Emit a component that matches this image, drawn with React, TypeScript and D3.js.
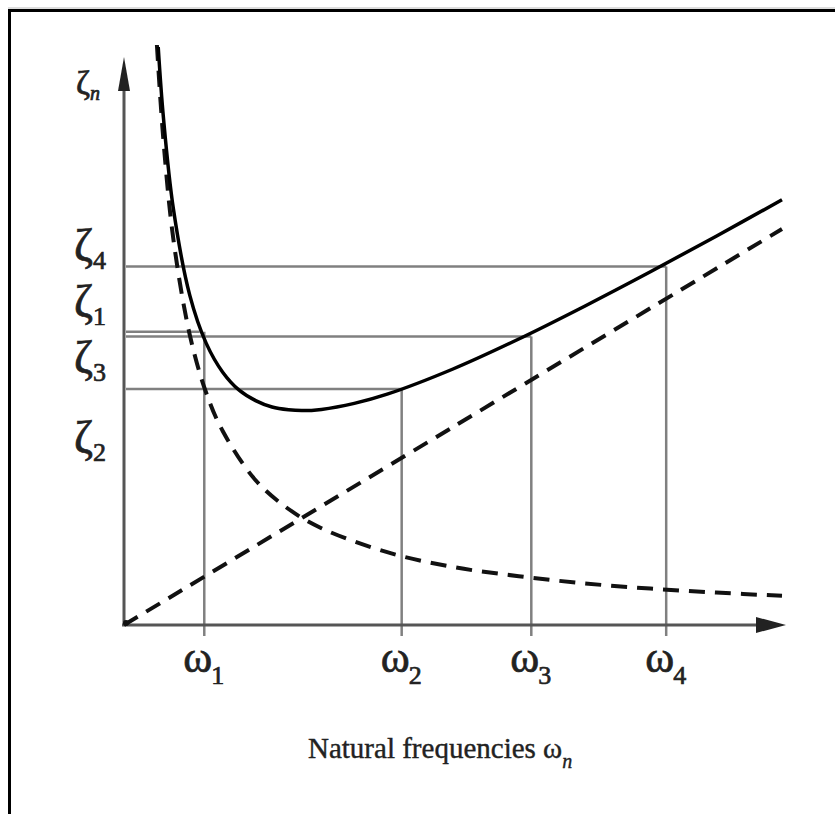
import React from "react";
import * as d3 from "d3";

// ω along the bottom (0..10), ζ up the side (0..14.6)
const massOmega = [0.5, 0.6, 0.75, 1, 1.25, 1.5, 2, 2.5, 3, 4, 5, 6, 7, 8, 9, 10];
const massZeta = [14.5, 12.1, 9.65, 7.25, 5.8, 4.85, 3.62, 2.9, 2.42, 1.82, 1.45, 1.22, 1.04, 0.91, 0.81, 0.73];

const stiffOmega = [0, 5, 10];
const stiffZeta = [0, 4.95, 9.9];

const totalOmega = [0.52, 0.6, 0.75, 1, 1.25, 1.5, 1.75, 2, 2.25, 2.5, 2.7, 3, 3.5, 4, 5, 6, 7, 8, 9, 10];
const totalZeta = [14.45, 12.67, 10.41, 8.24, 7.04, 6.32, 5.87, 5.61, 5.45, 5.38, 5.36, 5.39, 5.54, 5.77, 6.4, 7.15, 7.97, 8.83, 9.72, 10.63];

// the four target modes
const modeNames = ["1", "2", "3", "4"];
const modeOmega = [1.22, 4.22, 6.19, 8.24];
const modeZeta = [7.33, 5.9, 7.21, 8.96];
const guideEnd = [1.15, 4.22, 6.19, 8.24];

// ζ labels on the left, top to bottom
const zetaNames = ["4", "1", "3", "2"];
const zetaLabelAt = [9.1, 7.7, 6.3, 4.3];

const width = 835;
const height = 814;
const font = "'Liberation Serif', 'DejaVu Serif', serif";

export default function App() {
  const x = d3.scaleLinear().domain([0, 10]).range([124, 782]);
  const y = d3.scaleLinear().domain([0, 14.6]).range([625, 41]);

  const line = d3
    .line<[number, number]>()
    .x((d) => x(d[0]))
    .y((d) => y(d[1]))
    .curve(d3.curveCatmullRom.alpha(0.5));

  const mass = line(massOmega.map((w, i) => [w, massZeta[i]]));
  const stiff = line(stiffOmega.map((w, i) => [w, stiffZeta[i]]));
  const total = line(totalOmega.map((w, i) => [w, totalZeta[i]]));

  const x0 = x(0);
  const y0 = y(0);
  const axisTop = y.range()[1] + 16;
  const axisRight = x(10) + 4;

  return (
    <svg
      width={width}
      height={height}
      style={{ position: "absolute", left: 0, top: 0, background: "#fff" }}
    >
      {/* frame */}
      <line x1={8} y1={8} x2={width} y2={8} stroke="#bbb" strokeWidth={1} />
      <line x1={8} y1={10.5} x2={width} y2={10.5} stroke="#000" strokeWidth={3} />
      <line x1={9.5} y1={9} x2={9.5} y2={height} stroke="#000" strokeWidth={3} />

      {/* guide lines */}
      {modeNames.map((m, i) => (
        <g key={m} stroke="#808080" strokeWidth={2.5}>
          <line x1={x0 + 2} x2={x(guideEnd[i])} y1={y(modeZeta[i])} y2={y(modeZeta[i])} />
          <line x1={x(modeOmega[i])} x2={x(modeOmega[i])} y1={y0 + 11} y2={y(modeZeta[i])} />
        </g>
      ))}

      {/* axes */}
      <g stroke="#555" strokeWidth={3}>
        <line x1={x0} y1={y0 + 1} x2={x0} y2={axisTop + 20} />
        <line x1={x0 - 2} y1={y0} x2={axisRight - 20} y2={y0} />
      </g>
      <path d={`M${x0},${axisTop} L${x0 - 6},${axisTop + 34} L${x0 + 6},${axisTop + 34} Z`} fill="#222" />
      <path d={`M${axisRight},${y0} L${axisRight - 30},${y0 - 8} L${axisRight - 30},${y0 + 8} Z`} fill="#222" />
      <circle cx={x0 + 2} cy={y0 - 2} r={3} fill="#111" />

      {/* curves */}
      <path d={mass ?? ""} fill="none" stroke="#111" strokeWidth={4} strokeDasharray="16,10" />
      <path d={stiff ?? ""} fill="none" stroke="#111" strokeWidth={4} strokeDasharray="16,10" />
      <path d={total ?? ""} fill="none" stroke="#000" strokeWidth={3.5} />

      {/* labels */}
      <g fontFamily={font} fill="#222" stroke="#222" strokeWidth={0.7}>
        <text x={76} y={94} fontSize={34}>
          ζ<tspan fontSize={20} fontStyle="italic" dy={6}>n</tspan>
        </text>
        {zetaNames.map((n, i) => (
          <text key={n} x={74} y={y(zetaLabelAt[i])} fontSize={46}>
            ζ<tspan fontSize={26} dy={8}>{n}</tspan>
          </text>
        ))}
        {modeNames.map((m, i) => (
          <text key={m} x={x(modeOmega[i]) - 21} y={672} fontSize={44}>
            ω<tspan fontSize={26} dy={12} dx={-1}>{m}</tspan>
          </text>
        ))}
        <text x={308} y={758} fontSize={29} strokeWidth={0.4}>
          Natural frequencies ω<tspan fontSize={20} fontStyle="italic" dy={10}>n</tspan>
        </text>
      </g>
    </svg>
  );
}
